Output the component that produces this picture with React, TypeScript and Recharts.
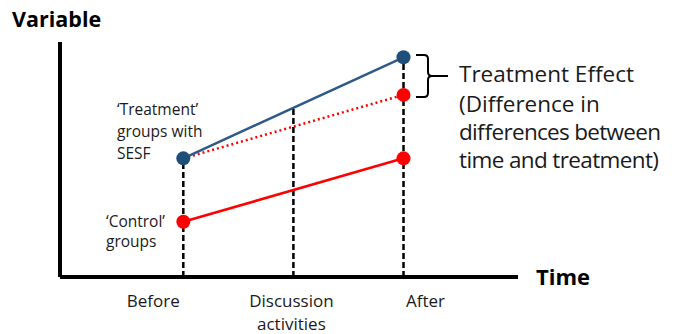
import React from 'react'
import { LineChart, Line, XAxis, YAxis, ReferenceLine } from 'recharts'

// time points on the x axis
const TIMES = ['Before', 'Discussion activities', 'After']
const TIME_POS = [0, 0.5, 1]

// series values at Before / After
const TREATMENT = [5.05, 9.35]
const CONTROL = [2.35, 5.05]
const COUNTERFACTUAL = [5.05, 7.75]

// top of each dashed guide (Before, Discussion, After)
const GUIDE_TOP = [5.05, 7.2, 9.35]

const FONT = '"Open Sans", sans-serif'
const BLUE_LINE = '#2E5A8A'
const BLUE_DOT = '#1F4E79'
const RED = '#FF0000'

const data = [0, 1].map((i) => ({
  t: TIME_POS[i * 2],
  treatment: TREATMENT[i],
  control: CONTROL[i],
  cf: COUNTERFACTUAL[i]
}))

const TICK_DX = [-30, -2, 22]

function TimeTick(props: any) {
  const { x, y, payload } = props
  const idx = TIME_POS.indexOf(payload.value)
  const label = TIMES[idx] ?? ''
  const words = idx === 1 ? ['Discussion', 'activities'] : [label]
  return (
    <g>
      {words.map((w, i) => (
        <text
          key={w}
          x={x + TICK_DX[idx]}
          y={y + 22 + i * 23}
          textAnchor="middle"
          fontFamily={FONT}
          fontSize={17}
          fill="#1a1a1a"
        >
          {w}
        </text>
      ))}
    </g>
  )
}

function RedEndDot(props: any) {
  const { cx, cy, index } = props
  if (index !== 1) return <g key={`cf-${index}`} />
  return <circle key={`cf-${index}`} cx={cx} cy={cy} r={7} fill={RED} />
}

export default function App() {
  return (
    <div style={{ position: 'relative', width: 666, height: 326 }}>
      <LineChart
        width={666}
        height={326}
        data={data}
        margin={{ top: 34, right: 156, bottom: 7, left: 50 }}
      >
        <XAxis
          type="number"
          dataKey="t"
          domain={[-0.56, 1.52]}
          ticks={TIME_POS}
          tickLine={false}
          tick={<TimeTick />}
          axisLine={{ stroke: '#000', strokeWidth: 4 }}
          height={50}
        />
        <YAxis
          type="number"
          domain={[0, 10]}
          width={2}
          tick={false}
          tickLine={false}
          axisLine={{ stroke: '#000', strokeWidth: 4 }}
        />
        {TIME_POS.map((p, i) => (
          <ReferenceLine
            key={p}
            segment={[
              { x: p, y: 0 },
              { x: p, y: GUIDE_TOP[i] }
            ]}
            stroke="#000"
            strokeWidth={2.5}
            strokeDasharray="6 3"
            ifOverflow="visible"
          />
        ))}
        <Line
          dataKey="cf"
          stroke={RED}
          strokeWidth={2.5}
          strokeDasharray="2 3"
          dot={<RedEndDot />}
          isAnimationActive={false}
        />
        <Line
          dataKey="control"
          stroke={RED}
          strokeWidth={2.5}
          dot={{ r: 7, fill: RED, stroke: 'none' }}
          isAnimationActive={false}
        />
        <Line
          dataKey="treatment"
          stroke={BLUE_LINE}
          strokeWidth={2.5}
          dot={{ r: 7, fill: BLUE_DOT, stroke: 'none' }}
          isAnimationActive={false}
        />
      </LineChart>
      <svg
        width={674}
        height={334}
        style={{ position: 'absolute', left: -8, top: -8, pointerEvents: 'none' }}
      >
        <g fontFamily={FONT} fill="#1a1a1a">
          <text x={12} y={27} fontSize={21.5} fontWeight="bold" fill="#000">Variable</text>
          <text x={536} y={285} fontSize={22} fontWeight="bold" fill="#000">Time</text>
          <g fontSize={15.5}>
            <text x={117} y={115}>‘Treatment’</text>
            <text x={117} y={137}>groups with</text>
            <text x={117} y={159}>SESF</text>
            <text x={106} y={227}>‘Control’</text>
            <text x={106} y={247}>groups</text>
          </g>
          <g fontSize={22.5}>
            <text x={459} y={82}>Treatment Effect</text>
            <text x={459} y={112}>(Difference in</text>
            <text x={459} y={140} textLength={202}>differences between</text>
            <text x={459} y={168} textLength={200}>time and treatment)</text>
          </g>
        </g>
        <path
          d="M416,55 L424,55 Q428,55 428,59 L428,72 Q428,76 432,76 L448,76 M432,76 Q428,76 428,80 L428,93 Q428,97 424,97 L416,97"
          fill="none"
          stroke="#000"
          strokeWidth={2}
        />
      </svg>
    </div>
  )
}
